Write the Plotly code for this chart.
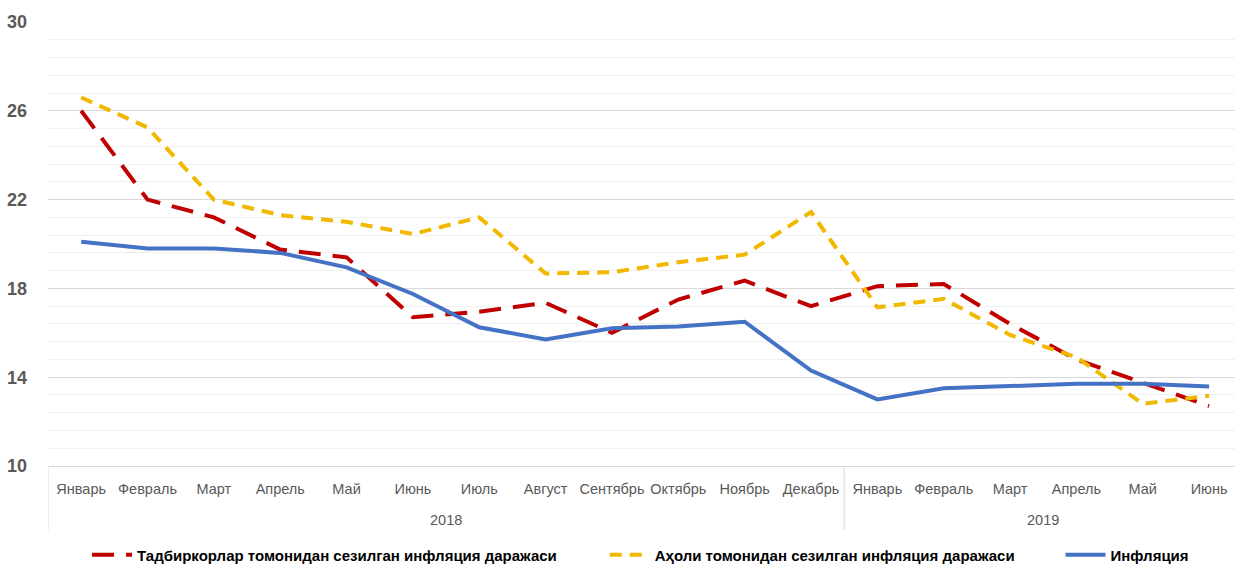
import plotly.graph_objects as go

months = ["Январь", "Февраль", "Март", "Апрель", "Май", "Июнь", "Июль", "Август",
          "Сентябрь", "Октябрь", "Ноябрь", "Декабрь",
          "Январь", "Февраль", "Март", "Апрель", "Май", "Июнь"]
years = ["2018"] * 12 + ["2019"] * 6

business = [26.0, 22.0, 21.2, 19.75, 19.4, 16.7, 16.95, 17.35, 16.0, 17.5, 18.35, 17.2,
            18.1, 18.2, 16.4, 14.8, 13.75, 12.7]
population = [26.6, 25.25, 22.0, 21.3, 21.0, 20.45, 21.2, 18.67, 18.73, 19.18, 19.52, 21.44,
              17.15, 17.53, 15.9, 14.9, 12.8, 13.16]
inflation = [20.1, 19.8, 19.8, 19.6, 18.95, 17.75, 16.25, 15.7, 16.2, 16.28, 16.5, 14.3,
             13.0, 13.5, 13.6, 13.7, 13.7, 13.58]

names = ["Тадбиркорлар томонидан сезилган инфляция даражаси",
         "Аҳоли томонидан сезилган инфляция даражаси",
         "Инфляция"]

FONT = "Liberation Sans, Arial, sans-serif"

xs = list(range(len(months)))
fig = go.Figure()
fig.add_trace(go.Scatter(x=xs, y=business, name=names[0], mode="lines", legend="legend",
                         line=dict(color="#C00000", width=4, dash="22px,12px")))
fig.add_trace(go.Scatter(x=xs, y=population, name=names[1], mode="lines", legend="legend2",
                         line=dict(color="#F2B800", width=4, dash="12px,8px")))
fig.add_trace(go.Scatter(x=xs, y=inflation, name=names[2], mode="lines", legend="legend3",
                         line=dict(color="#4472C4", width=4)))

# year groups: centers and boundaries derived from the years list
groups = []
for i, yv in enumerate(years):
    if not groups or groups[-1][0] != yv:
        groups.append([yv, i, i])
    else:
        groups[-1][2] = i

for yv, a, b in groups:
    fig.add_annotation(x=(a + b) / 2, y=-0.122, xref="x", yref="paper", text=yv,
                       showarrow=False, yanchor="middle",
                       font=dict(family=FONT, size=14.5, color="#595959"))
    fig.add_shape(type="line", x0=a - 0.5, x1=a - 0.5, y0=0, y1=-0.144,
                  xref="x", yref="paper", line=dict(color="#d9d9d9", width=1))

leg_font = dict(family=FONT, size=15, color="#000000", weight="bold")
def leg(xp):
    return dict(orientation="h", x=xp, xanchor="left", y=-0.2005, yanchor="middle",
                font=leg_font, itemwidth=40, bgcolor="rgba(0,0,0,0)")

fig.update_layout(
    width=1235, height=565,
    margin=dict(l=48, r=0, t=22, b=99, autoexpand=False),
    plot_bgcolor="white", paper_bgcolor="white",
    font=dict(family=FONT, color="#595959", size=14),
    showlegend=True,
    legend=leg(0.0329),
    legend2=leg(0.469),
    legend3=leg(0.853),
    xaxis=dict(range=[-0.5, 17.39], tickvals=xs, ticktext=months, showgrid=False,
               showline=True, linecolor="#d9d9d9", linewidth=1, tickangle=0,
               zeroline=False, automargin=False, ticklabelstandoff=10,
               tickfont=dict(family=FONT, size=14.5, color="#595959"), ticks=""),
    yaxis=dict(range=[10, 30], tick0=10, dtick=4, showgrid=True, gridcolor="#d9d9d9",
               gridwidth=1, zeroline=False, showline=False, automargin=False,
               tickfont=dict(family=FONT, size=18, color="#595959", weight="bold"),
               ticklabelstandoff=20,
               minor=dict(dtick=0.8, tick0=10, showgrid=True, gridcolor="#f0f0f0", gridwidth=1)),
)

fig.write_html("out.html", config={"displayModeBar": False},
               post_script="document.body.style.margin='0';document.body.style.overflow='hidden';")
